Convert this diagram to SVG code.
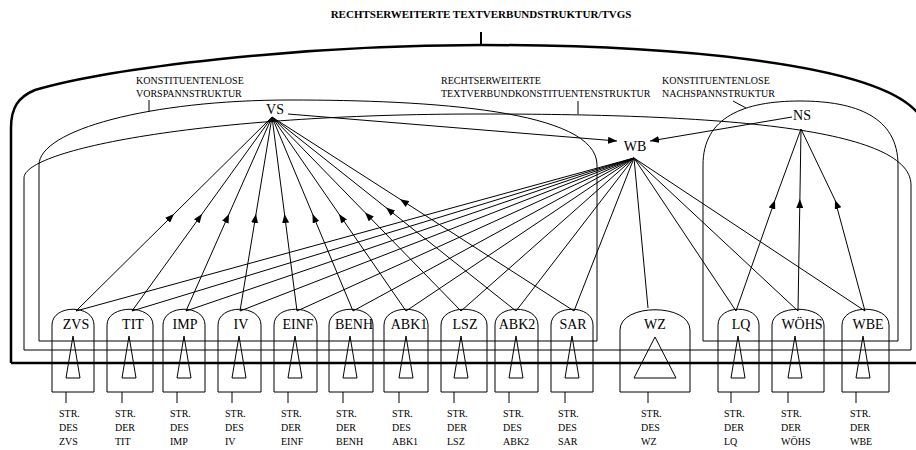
<svg xmlns="http://www.w3.org/2000/svg" width="916" height="450" viewBox="0 0 916 450">
  <style>
    .ln { fill: none; stroke: #000; stroke-width: 1; }
    .thick { fill: none; stroke: #000; stroke-width: 2.5; }
    .box { fill: none; stroke: #000; stroke-width: 1; }
    .tri { fill: none; stroke: #000; stroke-width: 1; }
    .title { font-family: "Liberation Serif", "Times New Roman", serif; font-size: 11px; font-weight: bold; text-anchor: middle; }
    .lbl { font-family: "Liberation Serif", "Times New Roman", serif; font-size: 10px; }
    .node { font-family: "Liberation Serif", "Times New Roman", serif; font-size: 14px; text-anchor: middle; }
    .sub { font-family: "Liberation Serif", "Times New Roman", serif; font-size: 10px; }
    .arr { fill: none; stroke: #000; stroke-width: 1; marker-mid: url(#ah); }
    .arrEnd { fill: none; stroke: #000; stroke-width: 1; marker-end: url(#ah); }
  </style>
  <defs>
    <marker id="ah" markerWidth="9" markerHeight="7" refX="9" refY="3.5" orient="auto" markerUnits="userSpaceOnUse">
      <path d="M0,0 L9,3.5 L0,7 Z" fill="#000"/>
    </marker>
  </defs>
  <rect width="916" height="450" fill="#fff"/>

  <!-- title and its stem -->
  <g id="title">
    <text class="title" x="481" y="18">RECHTSERWEITERTE TEXTVERBUNDSTRUKTUR/TVGS</text>
    <line x1="481" y1="32" x2="481" y2="46" stroke="#000" stroke-width="2"/>
  </g>

  <!-- outer structure: thick contour -->
  <g id="outer">
    <path class="thick" d="M11,363 V128 C11,108 18,97 35,90 C110,68 300,45 481,45 C650,45 882,60 920,116"/>
    <line class="thick" x1="11" y1="363" x2="916" y2="363"/>
  </g>

  <!-- region contours -->
  <g id="regions">
    <path id="tvks" class="ln" d="M24,350 V178 C24,150 200,114 480,114 C700,114 911,125 911,185 V350 Z"/>
    <path id="vs-region" class="ln" d="M39,341 V165 C39,130 150,100 290,100 C430,100 597,110 597,165 V341 Z"/>
    <path id="ns-region" class="ln" d="M703,341 V165 C703,117 744,101 800,101 C856,101 898,117 898,165 V341 Z"/>
  </g>

  <!-- region labels with leaders -->
  <g id="region-labels">
    <text class="lbl" x="136" y="84">KONSTITUENTENLOSE</text>
    <text class="lbl" x="136" y="97">VORSPANNSTRUKTUR</text>
    <line class="ln" x1="149" y1="100" x2="149" y2="112"/>
    <text class="lbl" x="441" y="84">RECHTSERWEITERTE</text>
    <text class="lbl" x="441" y="97">TEXTVERBUNDKONSTITUENTENSTRUKTUR</text>
    <line class="ln" x1="578" y1="101" x2="578" y2="114"/>
    <text class="lbl" x="662" y="84">KONSTITUENTENLOSE</text>
    <text class="lbl" x="662" y="97">NACHSPANNSTRUKTUR</text>
    <line class="ln" x1="733" y1="101" x2="746" y2="108"/>
  </g>

  <!-- hub nodes -->
  <g id="node-VS"><text class="node" x="275" y="114">VS</text></g>
  <g id="node-WB"><text class="node" x="635" y="151">WB</text></g>
  <g id="node-NS"><text class="node" x="802" y="120">NS</text></g>

  <!-- connectors -->
  <g id="connectors">
    <!-- VS to WB, NS to WB -->
    <path class="arrEnd" d="M288,114 L617,141"/>
    <path class="arrEnd" d="M792,117 L650,141"/>
    <!-- VS to the Vorspann constituents (arrowhead part-way, pointing to VS) -->
    <path class="arr" d="M76,311 L174,214 L272,117"/>
    <path class="arr" d="M132,311 L202,214 L272,117"/>
    <path class="arr" d="M186,311 L229,214 L272,117"/>
    <path class="arr" d="M240,311 L256,214 L272,117"/>
    <path class="arr" d="M297,311 L284.5,214 L272,117"/>
    <path class="arr" d="M353,311 L312.5,214 L272,117"/>
    <path class="arr" d="M406,311 L339,214 L272,117"/>
    <path class="arr" d="M461,311 L365,212.5 L272,117"/>
    <path class="arr" d="M516,311 L386,207.6 L272,117"/>
    <path class="arr" d="M574,311 L400,199.2 L272,117"/>
    <!-- NS to the Nachspann constituents -->
    <path class="arr" d="M736,311 L775,200 L801,129"/>
    <path class="arr" d="M798,311 L799.9,199 L801,129"/>
    <path class="arr" d="M865,311 L835,200 L801,129"/>
    <!-- WB to every constituent -->
    <path class="ln" d="M634,158 L76,311 M634,158 L132,311 M634,158 L186,311 M634,158 L240,311 M634,158 L297,311 M634,158 L353,311 M634,158 L406,311 M634,158 L461,311 M634,158 L516,311 M634,158 L574,311 M634,158 L648,308 M634,158 L736,311 M634,158 L798,311 M634,158 L865,311"/>
  </g>

  <!-- constituent nodes -->
  <g id="node-ZVS">
    <path class="box" d="M52,392 V325 C52,304 94,304 94,325 V392 Z"/>
    <text class="node" x="76" y="329">ZVS</text>
    <path class="tri" d="M73,336 L66,378 L80,378 Z"/>
    <line class="ln" x1="66" y1="392" x2="66" y2="403"/>
    <text class="sub" x="59" y="417">STR.</text><text class="sub" x="59" y="431">DES</text><text class="sub" x="59" y="445">ZVS</text>
  </g>
  <g id="node-TIT">
    <path class="box" d="M107,392 V325 C107,304 153,304 153,325 V392 Z"/>
    <text class="node" x="133" y="329">TIT</text>
    <path class="tri" d="M129,336 L122,378 L136,378 Z"/>
    <line class="ln" x1="122" y1="392" x2="122" y2="403"/>
    <text class="sub" x="115" y="417">STR.</text><text class="sub" x="115" y="431">DER</text><text class="sub" x="115" y="445">TIT</text>
  </g>
  <g id="node-IMP">
    <path class="box" d="M163,392 V325 C163,304 205,304 205,325 V392 Z"/>
    <text class="node" x="185" y="329">IMP</text>
    <path class="tri" d="M184,336 L177,378 L191,378 Z"/>
    <line class="ln" x1="177" y1="392" x2="177" y2="403"/>
    <text class="sub" x="170" y="417">STR.</text><text class="sub" x="170" y="431">DES</text><text class="sub" x="170" y="445">IMP</text>
  </g>
  <g id="node-IV">
    <path class="box" d="M218,392 V325 C218,304 261,304 261,325 V392 Z"/>
    <text class="node" x="241" y="329">IV</text>
    <path class="tri" d="M239,336 L232,378 L246,378 Z"/>
    <line class="ln" x1="232" y1="392" x2="232" y2="403"/>
    <text class="sub" x="225" y="417">STR.</text><text class="sub" x="225" y="431">DES</text><text class="sub" x="225" y="445">IV</text>
  </g>
  <g id="node-EINF">
    <path class="box" d="M274,392 V325 C274,304 317,304 317,325 V392 Z"/>
    <text class="node" x="298" y="329">EINF</text>
    <path class="tri" d="M295,336 L288,378 L302,378 Z"/>
    <line class="ln" x1="288" y1="392" x2="288" y2="403"/>
    <text class="sub" x="281" y="417">STR.</text><text class="sub" x="281" y="431">DER</text><text class="sub" x="281" y="445">EINF</text>
  </g>
  <g id="node-BENH">
    <path class="box" d="M329,392 V325 C329,304 373,304 373,325 V392 Z"/>
    <text class="node" x="354" y="329">BENH</text>
    <path class="tri" d="M350,336 L343,378 L357,378 Z"/>
    <line class="ln" x1="343" y1="392" x2="343" y2="403"/>
    <text class="sub" x="336" y="417">STR.</text><text class="sub" x="336" y="431">DER</text><text class="sub" x="336" y="445">BENH</text>
  </g>
  <g id="node-ABK1">
    <path class="box" d="M384,392 V325 C384,304 428,304 428,325 V392 Z"/>
    <text class="node" x="409" y="329">ABK1</text>
    <path class="tri" d="M406,336 L399,378 L413,378 Z"/>
    <line class="ln" x1="399" y1="392" x2="399" y2="403"/>
    <text class="sub" x="392" y="417">STR.</text><text class="sub" x="392" y="431">DES</text><text class="sub" x="392" y="445">ABK1</text>
  </g>
  <g id="node-LSZ">
    <path class="box" d="M441,392 V325 C441,304 487,304 487,325 V392 Z"/>
    <text class="node" x="465" y="329">LSZ</text>
    <path class="tri" d="M461,336 L454,378 L468,378 Z"/>
    <line class="ln" x1="454" y1="392" x2="454" y2="403"/>
    <text class="sub" x="447" y="417">STR.</text><text class="sub" x="447" y="431">DER</text><text class="sub" x="447" y="445">LSZ</text>
  </g>
  <g id="node-ABK2">
    <path class="box" d="M495,392 V325 C495,304 538,304 538,325 V392 Z"/>
    <text class="node" x="517" y="329">ABK2</text>
    <path class="tri" d="M516,336 L509,378 L523,378 Z"/>
    <line class="ln" x1="509" y1="392" x2="509" y2="403"/>
    <text class="sub" x="503" y="417">STR.</text><text class="sub" x="503" y="431">DES</text><text class="sub" x="503" y="445">ABK2</text>
  </g>
  <g id="node-SAR">
    <path class="box" d="M551,392 V325 C551,304 593,304 593,325 V392 Z"/>
    <text class="node" x="573" y="329">SAR</text>
    <path class="tri" d="M572,336 L565,378 L579,378 Z"/>
    <line class="ln" x1="565" y1="392" x2="565" y2="403"/>
    <text class="sub" x="558" y="417">STR.</text><text class="sub" x="558" y="431">DES</text><text class="sub" x="558" y="445">SAR</text>
  </g>
  <g id="node-WZ">
    <path class="box" d="M620,392 V330 C620,303 690,303 690,330 V392 Z"/>
    <text class="node" x="655" y="329">WZ</text>
    <path class="tri" d="M655,337 L634,378 L676,378 Z"/>
    <line class="ln" x1="648" y1="392" x2="648" y2="403"/>
    <text class="sub" x="641" y="417">STR.</text><text class="sub" x="641" y="431">DES</text><text class="sub" x="641" y="445">WZ</text>
  </g>
  <g id="node-LQ">
    <path class="box" d="M718,392 V325 C718,304 759,304 759,325 V392 Z"/>
    <text class="node" x="741" y="329">LQ</text>
    <path class="tri" d="M738,336 L731,378 L745,378 Z"/>
    <line class="ln" x1="731" y1="392" x2="731" y2="403"/>
    <text class="sub" x="724" y="417">STR.</text><text class="sub" x="724" y="431">DER</text><text class="sub" x="724" y="445">LQ</text>
  </g>
  <g id="node-WOEHS">
    <path class="box" d="M772,392 V325 C772,304 824,304 824,325 V392 Z"/>
    <text class="node" x="802" y="329">WÖHS</text>
    <path class="tri" d="M795,336 L788,378 L802,378 Z"/>
    <line class="ln" x1="788" y1="392" x2="788" y2="403"/>
    <text class="sub" x="781" y="417">STR.</text><text class="sub" x="781" y="431">DER</text><text class="sub" x="781" y="445">WÖHS</text>
  </g>
  <g id="node-WBE">
    <path class="box" d="M842,392 V325 C842,304 889,304 889,325 V392 Z"/>
    <text class="node" x="868" y="329">WBE</text>
    <path class="tri" d="M863,336 L856,378 L870,378 Z"/>
    <line class="ln" x1="856" y1="392" x2="856" y2="403"/>
    <text class="sub" x="850" y="417">STR.</text><text class="sub" x="850" y="431">DER</text><text class="sub" x="850" y="445">WBE</text>
  </g>
</svg>
